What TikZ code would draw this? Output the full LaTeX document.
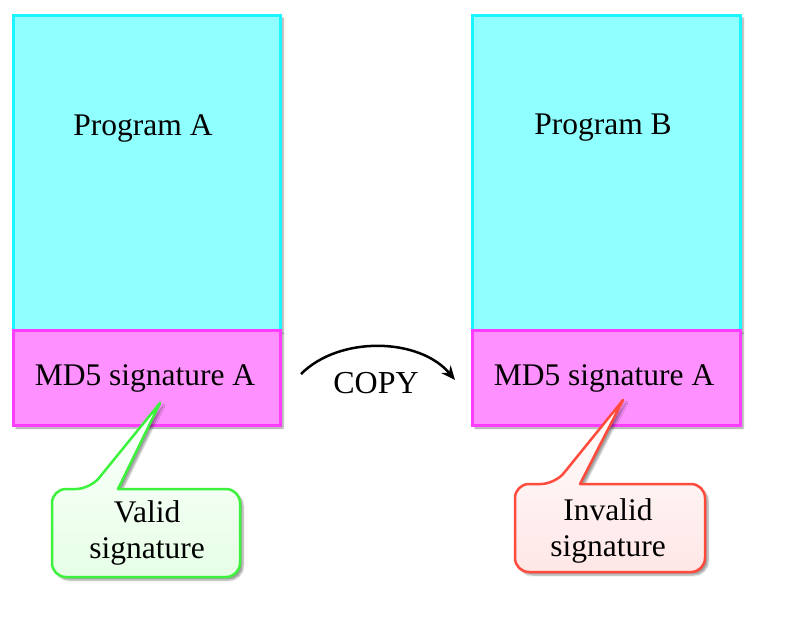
\documentclass[tikz,border=0pt]{standalone}
\usepackage{fontspec}
\setmainfont{Liberation Serif}
\usetikzlibrary{shadows,shadows.blur,arrows.meta}
\definecolor{cyfill}{HTML}{8FFFFF}
\definecolor{cyline}{HTML}{1AF5FF}
\definecolor{mgfill}{HTML}{FF90FF}
\definecolor{mgline}{HTML}{FF3CFF}
\definecolor{gnline}{HTML}{3CF23C}
\definecolor{gnfill}{HTML}{E6FFE6}
\definecolor{rdline}{HTML}{FF4A3C}
\definecolor{rdfill}{HTML}{FFE6E6}
\tikzset{
  prog/.style={draw=cyline, fill=cyfill, line width=3pt, blur shadow={shadow xshift=3pt, shadow yshift=-3pt, shadow blur steps=5}},
  sig/.style={draw=mgline, fill=mgfill, line width=3pt, blur shadow={shadow xshift=3pt, shadow yshift=-3pt, shadow blur steps=5}},
  lbl/.style={font=\fontsize{31.5}{36}\selectfont, text=black, align=center},
  call/.style={line width=2.5pt, line join=round, blur shadow={shadow xshift=3pt, shadow yshift=-3pt, shadow blur steps=5}},
}
\begin{document}
\begin{tikzpicture}[x=1pt,y=-1pt]
\useasboundingbox (0,0) rectangle (794,621);
% left column
\path[prog] (13,15) rectangle (280,330);
\path[sig] (13,330) rectangle (280,425);
\node[lbl] (pa) at (143,128) {Program A};
\node[lbl] (sa) at (145,378) {MD5 signature A};
% right column
\path[prog] (472,15) rectangle (740,330);
\path[sig] (472,330) rectangle (740,425);
\node[lbl] (pb) at (603,128) {Program B};
\node[lbl] (sb) at (604,378) {MD5 signature A};
% copy arrow
\coordinate (c1) at (301,374);
\coordinate (c2) at (455,380);
\draw[line width=2.5pt, -{Stealth[length=14pt,width=12pt]}] (c1) .. controls (340,335) and (420,338) .. (c2);
\node[lbl, font=\fontsize{32}{36}\selectfont] (cp) at (376,383) {COPY};
% valid callout
\path[call, draw=gnline, top color=white, bottom color=gnfill, rounded corners=14pt]
  (146,577) -- (52,577) -- (52,489) -- (90,489) [sharp corners] -- (160,403) -- (118,489) [rounded corners=14pt] -- (240,489) -- (240,577) -- cycle;
\node[lbl] (va) at (147,533) {Valid\\signature};
% invalid callout
\path[call, draw=rdline, top color=white, bottom color=rdfill, rounded corners=14pt]
  (610,572) -- (515,572) -- (515,484) -- (555,484) [sharp corners] -- (623,400) -- (580,484) [rounded corners=14pt] -- (705,484) -- (705,572) -- cycle;
\node[lbl] (iv) at (608,531) {Invalid\\signature};
\end{tikzpicture}
\end{document}
